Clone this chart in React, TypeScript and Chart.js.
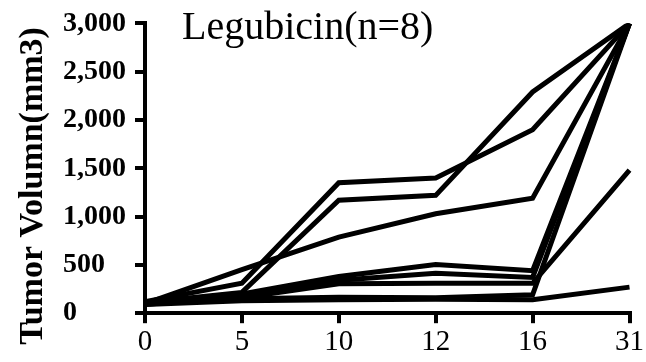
import React, { useEffect, useRef } from "react";
import { Chart, registerables } from "chart.js";

Chart.register(...registerables);

const days = ["0", "5", "10", "12", "16", "31"];
const mouse1 = [120, 310, 1350, 1400, 1900, 3000];
const mouse2 = [110, 215, 1170, 1220, 2290, 3000];
const mouse3 = [100, 450, 787, 1030, 1190, 3000];
const mouse4 = [100, 200, 380, 505, 440, 3000];
const mouse5 = [90, 180, 340, 414, 370, 3000];
const mouse6 = [110, 160, 305, 311, 310, 1480];
const mouse7 = [100, 150, 165, 160, 190, 3000];
const mouse8 = [90, 130, 140, 145, 140, 270];
const allSeries = [mouse1, mouse2, mouse3, mouse4, mouse5, mouse6, mouse7, mouse8];

const chartTitle = "Legubicin(n=8)";
const yTitle = "Tumor Volumn(mm3)";
const yMin = 0;
const yMax = 3000;
const yStep = 500;

const textPlugin = {
  id: "extraText",
  afterDraw(chart: any) {
    const { ctx, chartArea } = chart;
    ctx.save();
    ctx.fillStyle = "#000";
    ctx.font = '40px "Liberation Serif"';
    ctx.textAlign = "left";
    ctx.textBaseline = "alphabetic";
    ctx.fillText(chartTitle, chartArea.left + 37, chartArea.top + 15.5);
    ctx.restore();

    ctx.save();
    ctx.fillStyle = "#000";
    ctx.font = 'bold 34px "Liberation Serif"';
    ctx.textAlign = "center";
    ctx.textBaseline = "middle";
    ctx.translate(33, 186);
    ctx.rotate(-Math.PI / 2);
    ctx.fillText(yTitle, 0, 0);
    ctx.restore();
  },
};

export default function App() {
  const ref = useRef<HTMLCanvasElement | null>(null);

  useEffect(() => {
    document.body.style.margin = "0";
    const canvas = ref.current;
    if (!canvas) return;
    const chart = new Chart(canvas, {
      type: "line",
      data: {
        labels: days,
        datasets: allSeries.map((s, i) => ({
          label: "Mouse " + (i + 1),
          data: s,
          borderColor: "#000",
          backgroundColor: "#000",
          borderWidth: 5,
          pointRadius: 0,
          tension: 0,
          fill: false,
          borderJoinStyle: "miter" as const,
        })),
      },
      options: {
        responsive: false,
        animation: false,
        layout: { padding: { top: 23.4, right: 14.5, bottom: 0, left: 63 } },
        plugins: {
          legend: { display: false },
          tooltip: { enabled: false },
          title: { display: false },
        },
        scales: {
          x: {
            type: "category",
            offset: false,
            grid: {
              display: true,
              drawOnChartArea: false,
              drawTicks: true,
              tickLength: 10,
              lineWidth: 4,
              color: "#000",
            },
            border: { display: true, width: 4, color: "#000" },
            ticks: {
              color: "#000",
              font: { family: "Liberation Serif", size: 29 },
              padding: 2,
              maxRotation: 0,
              autoSkip: false,
            },
          },
          y: {
            type: "linear",
            position: "left",
            min: yMin,
            max: yMax,
            grid: {
              display: true,
              drawOnChartArea: false,
              drawTicks: true,
              tickLength: 10,
              lineWidth: 4,
              color: "#000",
            },
            border: { display: true, width: 4, color: "#000" },
            ticks: {
              stepSize: yStep,
              color: "#000",
              crossAlign: "far",
              padding: 4.5,
              font: { family: "Liberation Serif", size: 28, weight: "bold" },
              callback: (v: any) => Number(v).toLocaleString("en-US"),
            },
          },
        },
      },
      plugins: [textPlugin],
    });
    return () => chart.destroy();
  }, []);

  return (
    <div style={{ width: 646, height: 362 }}>
      <canvas ref={ref} width={646} height={362} />
    </div>
  );
}
